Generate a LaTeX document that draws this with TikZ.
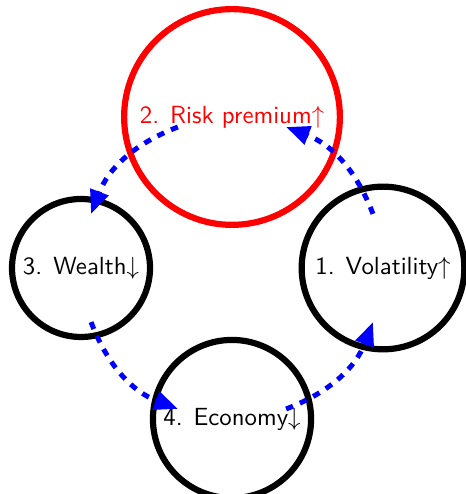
\documentclass[tikz,border=0pt]{standalone}
\usepackage{xcolor}
\usepackage{tikz}
\usetikzlibrary{arrows.meta}
\tikzset{
  stage/.style={circle,draw,line width=2.5pt,font=\sffamily},
  flow/.style={-{Triangle[length=9.5pt,width=7.5pt]},line width=2pt,dashed,blue}
}

\begin{document}
\begin{tikzpicture}
\def\R{2.14}
\useasboundingbox (-3.288,-3.203) rectangle (3.316,3.798);
\node[stage,minimum size=65.6pt] (vol) at (0:\R) {1. Volatility$\uparrow$};
\node[stage,minimum size=87pt,inner sep=2.8pt,draw=red,text=red] (risk) at (90:\R) {2. Risk premium$\uparrow$\hspace{5.6pt}};
\node[stage,minimum size=55.6pt] (wealth) at (180:\R) {3. Wealth$\downarrow$};
\node[stage,minimum size=62pt] (econ) at (270:\R) {4. Economy$\downarrow$};
% arrow ends sit on the same ring as the nodes
\foreach \n/\a in {v1/21,r1/69,r2/111,w1/159,w2/201,e1/249,e2/291,v2/339}
  \coordinate (\n) at (\a:\R);
\draw[flow] (v1) to[bend right=24] (r1);
\draw[flow] (r2) to[bend right=24] (w1);
\draw[flow] (w2) to[bend right=24] (e1);
\draw[flow] (e2) to[bend right=24] (v2);
\end{tikzpicture}
\end{document}
